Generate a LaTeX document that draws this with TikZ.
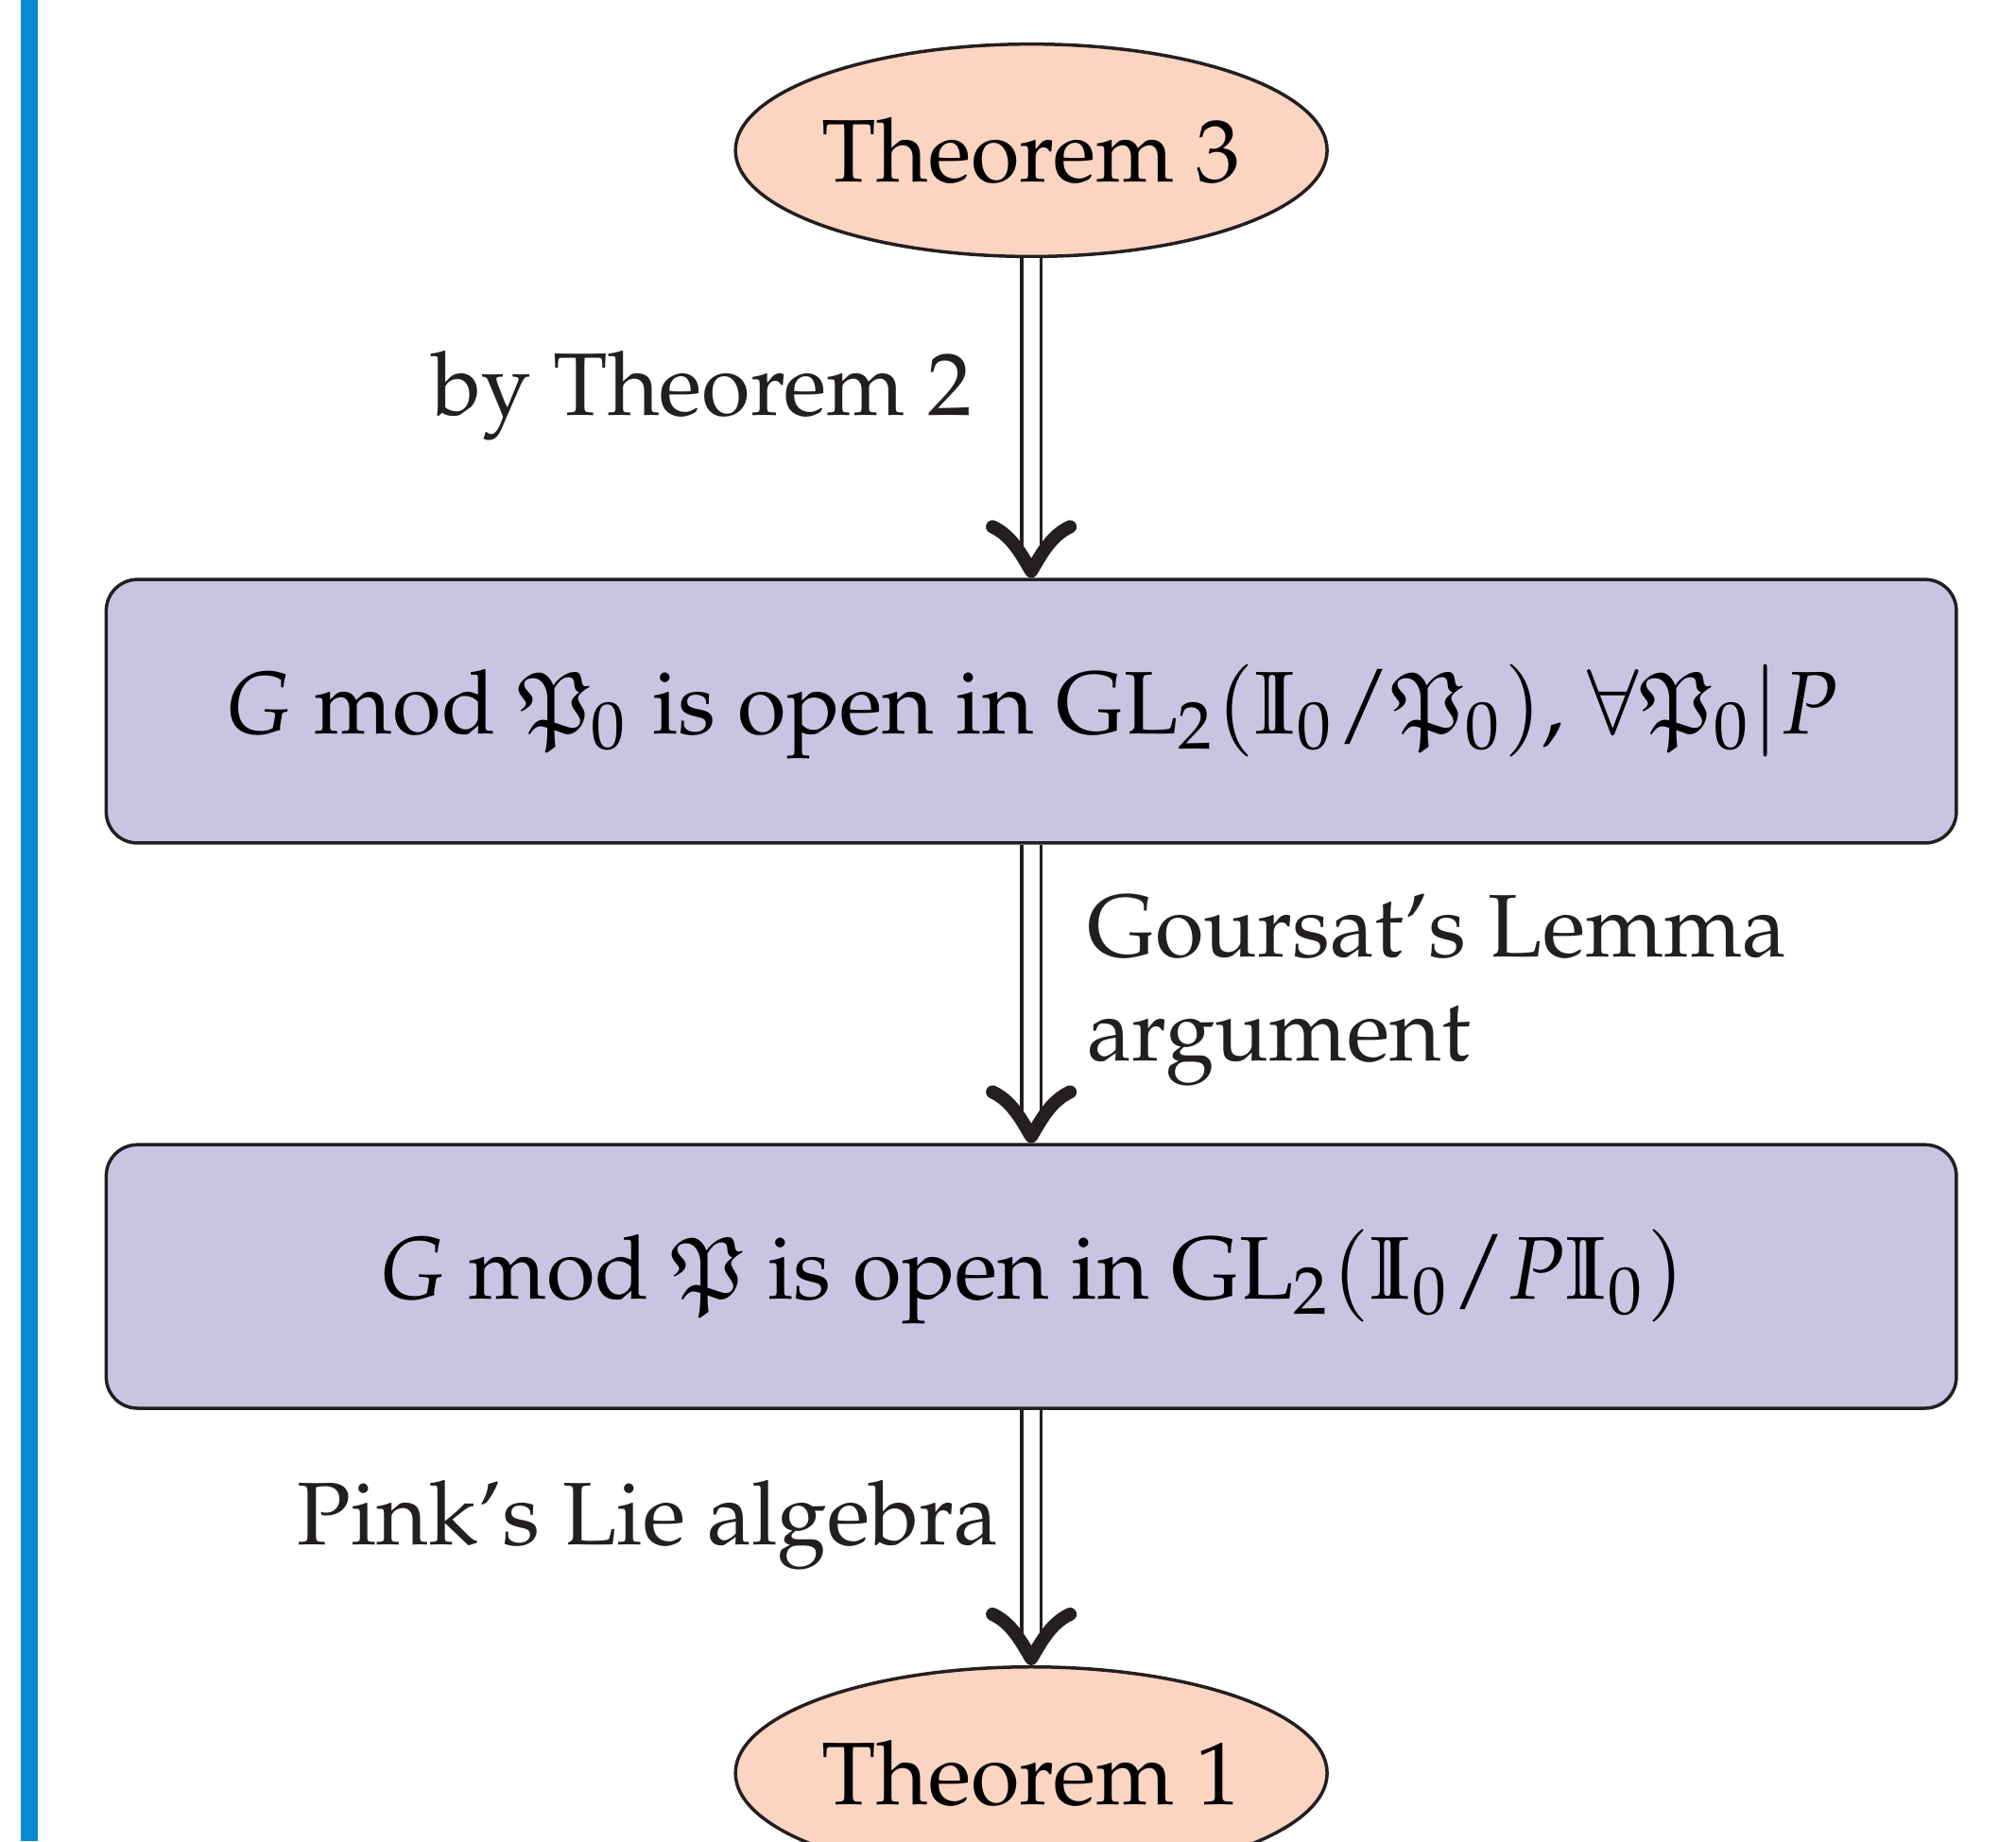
\documentclass[tikz,border=0pt]{standalone}
\usepackage[T1]{fontenc}
\usepackage{mathpazo}
\usepackage{eufrak}
\usetikzlibrary{arrows.meta, positioning, shapes.geometric}
\definecolor{peach}{RGB}{251,212,194}
\definecolor{lavender}{RGB}{199,197,226}
\definecolor{barblue}{RGB}{10,138,206}
\definecolor{ink}{RGB}{35,31,32}

% bold curved tip for the implication arrows
\pgfdeclarearrow{
  name = BoldImplies,
  parameters = {\the\pgfarrowlength,\the\pgfarrowwidth,\the\pgfarrowlinewidth},
  setup code = {
    \pgfarrowssettipend{.5\pgfarrowlinewidth}
    \pgfarrowssetlineend{-.35\pgfarrowlength}
    \pgfarrowssetbackend{-\pgfarrowlength}
    \pgfarrowssetvisualbackend{-\pgfarrowlength}
    \pgfarrowshullpoint{.5\pgfarrowlinewidth}{0pt}
    \pgfarrowshullpoint{-\pgfarrowlength}{.5\pgfarrowwidth}
    \pgfarrowshullpoint{-\pgfarrowlength}{-.5\pgfarrowwidth}
    \pgfarrowssavethe\pgfarrowlength
    \pgfarrowssavethe\pgfarrowwidth
    \pgfarrowssavethe\pgfarrowlinewidth
  },
  drawing code = {
    \pgfsetdash{}{0pt}
    \pgfsetroundcap
    \pgfsetroundjoin
    \pgfsetlinewidth{\pgfarrowlinewidth}
    \pgfpathmoveto{\pgfqpoint{-\pgfarrowlength}{.5\pgfarrowwidth}}
    \pgfpathcurveto{\pgfqpoint{-.8\pgfarrowlength}{.25\pgfarrowwidth}}
                   {\pgfqpoint{-.35\pgfarrowlength}{.12\pgfarrowwidth}}
                   {\pgfpointorigin}
    \pgfpathcurveto{\pgfqpoint{-.35\pgfarrowlength}{-.12\pgfarrowwidth}}
                   {\pgfqpoint{-.8\pgfarrowlength}{-.25\pgfarrowwidth}}
                   {\pgfqpoint{-\pgfarrowlength}{-.5\pgfarrowwidth}}
    \pgfusepathqstroke
  },
  defaults = {length=4.7pt, width=8.2pt, line width=1.4pt}
}

\begin{document}
\begin{tikzpicture}[
  x=1cm, y=1cm,
  font=\fontsize{9.4}{11}\selectfont,
  thm/.style={
    ellipse, draw=ink, fill=peach, line width=0.35pt,
    minimum width=2.19cm, minimum height=0.79cm, inner sep=0pt
  },
  claim/.style={
    rectangle, rounded corners=3.3pt, draw=ink, fill=lavender, line width=0.35pt,
    minimum width=6.88cm, minimum height=0.98cm
  },
  impl/.style={
    draw=ink, double=white, double distance=1.7pt, line width=0.35pt,
    -{BoldImplies}
  },
  lbl/.style={text=ink, inner sep=0pt, align=left}
]

\useasboundingbox (0,0) rectangle (7.497,6.847);

% ----- bar on the left -----
\fill[barblue] (0.079,0) rectangle (0.142,6.847);

% ----- nodes -----
\node[thm]   (thm3)  at (3.835,6.288) {Theorem 3};
\node[claim] (modP0) at (3.835,4.202)
  {$G$ mod $\mathfrak{P}_0$ is open in $\mathrm{GL}_2(\mathbb{I}_0/\mathfrak{P}_0)$, $\forall\mathfrak{P}_0|P$};
\node[claim] (modP)  at (3.835,2.100)
  {$G$ mod $\mathfrak{P}$ is open in $\mathrm{GL}_2(\mathbb{I}_0/P\mathbb{I}_0)$};
\node[thm]   (thm1)  at (3.835,0.253) {Theorem 1};

% ----- implications -----
\draw[impl] (thm3) -- node[lbl, pos=0.43, left=0.215cm] (byThm2) {by Theorem 2} (modP0);
\draw[impl] (modP0) -- node[lbl, pos=0.49, right=0.204cm] (goursat) {Goursat's Lemma\\argument} (modP);
\draw[impl] (modP) -- node[lbl, pos=0.45, left=0.116cm] (pink) {Pink's Lie algebra} (thm1);

\end{tikzpicture}
\end{document}
